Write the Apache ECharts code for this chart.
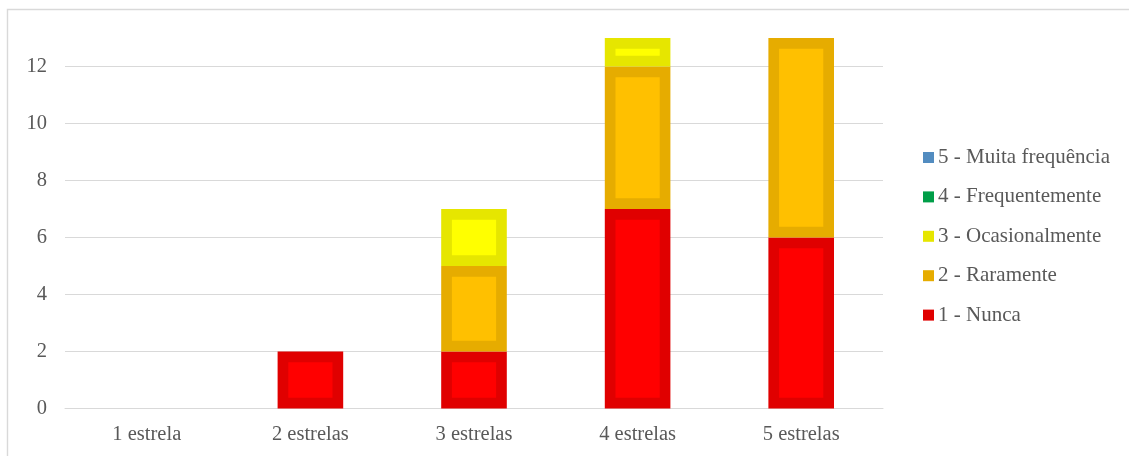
<!DOCTYPE html>
<html>
<head>
<meta charset="utf-8">
<script src="https://cdn.jsdelivr.net/npm/echarts@6/dist/echarts.min.js"></script>
<style>
  html, body { margin: 0; padding: 0; background: #ffffff; }
  #chart { width: 1129px; height: 456px; }
</style>
</head>
<body>
<div id="chart"></div>
<script>
// Categories (star ratings) along the x axis
const categories = ['1 estrela', '2 estrelas', '3 estrelas', '4 estrelas', '5 estrelas'];

// Series names, bottom of the stack first
const seriesNames = ['1 - Nunca', '2 - Raramente', '3 - Ocasionalmente', '4 - Frequentemente', '5 - Muita frequência'];

// Counts per category for each frequency answer
const nunca          = [0, 2, 2, 7, 6];
const raramente      = [0, 0, 3, 5, 7];
const ocasionalmente = [0, 0, 2, 1, 0];
const frequentemente = [0, 0, 0, 0, 0];
const muitaFrequencia = [0, 0, 0, 0, 0];

// Y-axis tick values
const yTicks = [0, 2, 4, 6, 8, 10, 12];

const seriesValues = [nunca, raramente, ocasionalmente, frequentemente, muitaFrequencia];

// Outline (darker) and fill colours of each stacked segment
const outlineColors = ['#E00000', '#E6AC00', '#E6E600', '#009E48', '#528CC0'];
const fillColors    = ['#FF0000', '#FFC000', '#FFFF00', '#00B050', '#5B9BD5'];

const FONT = 'Liberation Serif, Times New Roman, serif';
const TEXT_COLOR = '#595959';
const GRID_COLOR = '#D9D9D9';
const BAR_RATIO = 0.401;   // bar width as a share of the category band
const EDGE = 10.7;         // outline thickness, drawn inside the bar

// Running stack bases per category
const bases = categories.map(() => 0);
const series = seriesValues.map((vals, si) => {
  const data = vals.map((v, ci) => {
    const item = [ci, v, bases[ci]];
    bases[ci] += v;
    return item;
  });
  return {
    name: seriesNames[si],
    type: 'custom',
    itemStyle: { color: outlineColors[si] },
    encode: { x: 0, y: 1 },
    data: data,
    renderItem: function (params, api) {
      const ci = api.value(0);
      const v = api.value(1);
      const base = api.value(2);
      if (!v) return null;
      const top = api.coord([ci, base + v]);
      const bot = api.coord([ci, base]);
      const band = api.size([1, 0])[0];
      const w = band * BAR_RATIO;
      return {
        type: 'rect',
        shape: {
          x: top[0] - w / 2 + EDGE / 2,
          y: top[1] + EDGE / 2,
          width: w - EDGE,
          height: (bot[1] - top[1]) - EDGE
        },
        style: {
          fill: fillColors[si],
          stroke: outlineColors[si],
          lineWidth: EDGE
        }
      };
    }
  };
});

const chart = echarts.init(document.getElementById('chart'), null, { renderer: 'canvas' });
chart.setOption({
  animation: false,
  backgroundColor: '#ffffff',
  graphic: [{
    type: 'rect',
    silent: true,
    shape: { x: 7.5, y: 9.5, width: 1300, height: 600 },
    style: { fill: 'none', stroke: GRID_COLOR, lineWidth: 1.4 },
    z: -1
  }],
  grid: { left: 65, right: 246, top: 9.5, bottom: 47.5, containLabel: false },
  legend: {
    orient: 'vertical',
    left: 923,
    top: 147,
    padding: 0,
    itemWidth: 11,
    itemHeight: 11,
    itemGap: 18.4,
    icon: 'rect',
    data: seriesNames.slice().reverse(),
    textStyle: { fontFamily: FONT, fontSize: 21, color: TEXT_COLOR, lineHeight: 21, padding: [0, 0, 0, -1] }
  },
  xAxis: {
    type: 'category',
    data: categories,
    axisLine: { show: true, lineStyle: { color: GRID_COLOR, width: 1 } },
    axisTick: { show: false },
    axisLabel: { fontFamily: FONT, fontSize: 20.5, color: TEXT_COLOR, margin: 16 }
  },
  yAxis: {
    type: 'value',
    min: 0,
    max: 14,
    interval: 2,
    axisLine: { show: false },
    axisTick: { show: false },
    splitLine: { lineStyle: { color: GRID_COLOR, width: 1 } },
    axisLabel: {
      fontFamily: FONT, fontSize: 20.5, color: TEXT_COLOR, margin: 18,
      formatter: v => (yTicks.indexOf(v) >= 0 ? String(v) : '')
    }
  },
  series: series
});
</script>
</body>
</html>
